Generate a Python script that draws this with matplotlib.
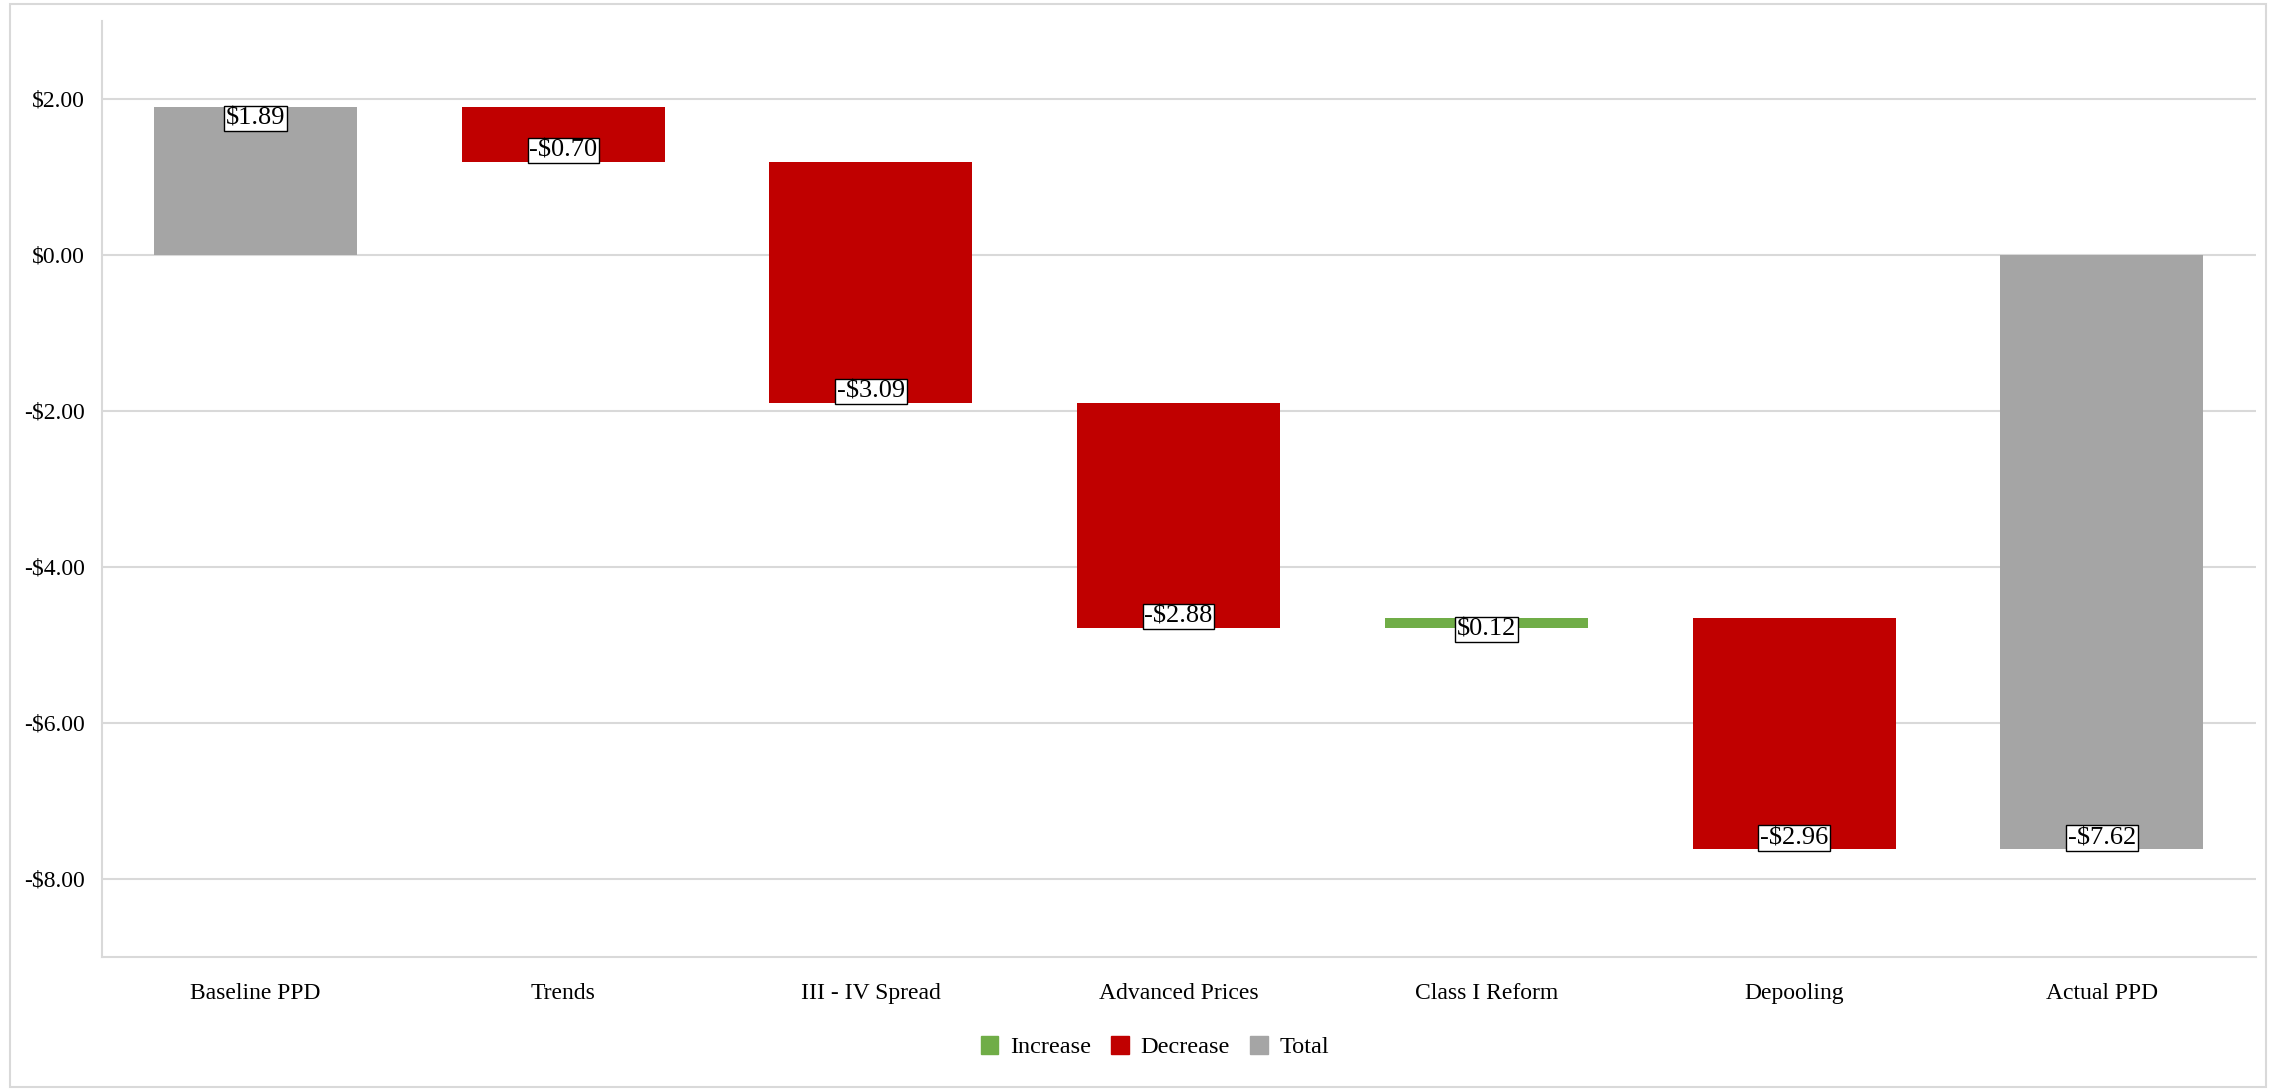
import matplotlib
matplotlib.use("Agg")
import matplotlib.pyplot as plt
from matplotlib.patches import Rectangle, Patch
from matplotlib.ticker import FuncFormatter

# ===== DATA =====
categories = ["Baseline PPD", "Trends", "III - IV Spread", "Advanced Prices",
              "Class I Reform", "Depooling", "Actual PPD"]
changes = [1.89, -0.70, -3.09, -2.88, 0.12, -2.96, -7.62]
kinds = ["total", "decrease", "decrease", "decrease", "increase", "decrease", "total"]
y_ticks = [2, 0, -2, -4, -6, -8]

colors = {"increase": "#70AD47", "decrease": "#C00000", "total": "#A5A5A5"}
grid_color = "#D9D9D9"

plt.rcParams['font.family'] = ['Liberation Serif', 'DejaVu Serif']


def money(v):
    return ("-" if v < 0 else "") + "$" + f"{abs(v):.2f}"


fig = plt.figure(figsize=(22.73, 10.91), dpi=100)
ax = fig.add_axes([0.0447, 0.1231, 0.9477, 0.858])

# outer frame
fig.patches.append(Rectangle((0.0045, 0.004), 0.9925, 0.992, transform=fig.transFigure,
                             fill=False, edgecolor=grid_color, linewidth=1.5))

# waterfall bars
running = 0.0
for i, (val, kind) in enumerate(zip(changes, kinds)):
    if kind == "total":
        bottom, height = 0.0, val
        running = val
    else:
        bottom, height = running, val
        running += val
    ax.bar(i, height, bottom=bottom, width=0.66, color=colors[kind], zorder=3)

    # label sits inside the end of the bar
    end = bottom + height
    top_end = height > 0
    ax.annotate(money(val), (i, end), xytext=(0, -0.5 if top_end else 0),
                textcoords="offset points", ha="center",
                va="top" if top_end else "bottom", fontsize=19, zorder=5,
                bbox=dict(boxstyle="square,pad=0.06", fc="white", ec="black", lw=1))

ax.set_xlim(-0.5, len(categories) - 0.5)
ax.set_ylim(-9, 3)
ax.set_yticks(y_ticks)
ax.yaxis.set_major_formatter(FuncFormatter(lambda v, p: money(v)))
ax.set_xticks(range(len(categories)))
ax.set_xticklabels(categories)
ax.tick_params(axis="both", length=0, labelsize=17)
ax.tick_params(axis="x", pad=19)
ax.tick_params(axis="y", pad=12)
ax.grid(axis="y", color=grid_color, linewidth=1.5, zorder=0)
ax.set_axisbelow(True)
for side in ("top", "right"):
    ax.spines[side].set_visible(False)
for side in ("left", "bottom"):
    ax.spines[side].set_color(grid_color)
    ax.spines[side].set_linewidth(1.5)

handles = [Patch(color=colors["increase"], label="Increase"),
           Patch(color=colors["decrease"], label="Decrease"),
           Patch(color=colors["total"], label="Total")]
fig.legend(handles=handles, loc="center", bbox_to_anchor=(0.508, 0.04), ncol=3,
           frameon=False, fontsize=17.5, handlelength=0.72, handleheight=0.72,
           handletextpad=0.48, columnspacing=0.84)

fig.savefig("out.png", dpi=100)
